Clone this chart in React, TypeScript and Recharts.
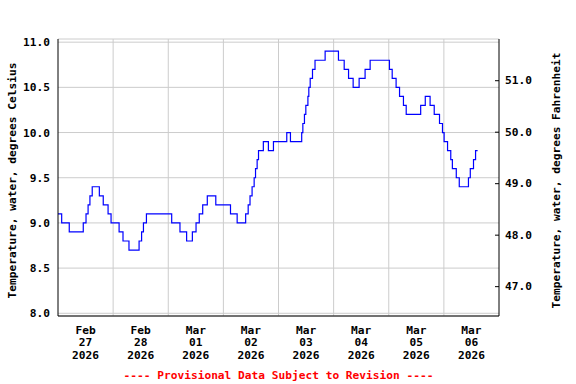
import React from 'react';
import { LineChart, Line, XAxis, YAxis, CartesianGrid, ReferenceLine, Label } from 'recharts';

// hours since Feb 27 2026 00:00, value changes (step series)
const hours = [
  0, 1.6, 4.9, 11.0, 12.2, 13.1, 13.9, 14.9, 18.0, 19.7, 21.8, 23.1, 26.6, 28.3, 30.9,
  35.3, 36.4, 37.2, 38.5, 49.5, 53.1, 56.0, 58.5, 60.1, 61.5, 63.0, 65.0, 68.7, 75.1,
  78.0, 81.7, 82.8, 83.6, 84.5, 85.4, 86.0, 86.7, 87.3, 89.4, 91.6, 93.8, 99.6, 101.2,
  106.1, 106.6, 107.3, 107.9, 108.8, 109.2, 109.8, 110.8, 111.9, 116.3, 122.1, 124.6,
  126.5, 128.5, 131.1, 133.7, 135.9, 144.3, 145.5, 147.2, 148.7, 150.4, 151.6, 157.9,
  159.9, 162.0, 163.8, 166.1, 167.4, 168.1, 169.6, 171.0, 171.7, 173.4, 174.7, 178.7,
  179.5, 180.9, 181.8, 182.7,
];
const tempC = [
  9.1, 9.0, 8.9, 9.0, 9.1, 9.2, 9.3, 9.4, 9.3, 9.2, 9.1, 9.0, 8.9, 8.8, 8.7,
  8.8, 8.9, 9.0, 9.1, 9.0, 8.9, 8.8, 8.9, 9.0, 9.1, 9.2, 9.3, 9.2, 9.1,
  9.0, 9.1, 9.2, 9.3, 9.4, 9.5, 9.6, 9.7, 9.8, 9.9, 9.8, 9.9, 10.0, 9.9,
  10.0, 10.1, 10.2, 10.3, 10.4, 10.5, 10.6, 10.7, 10.8, 10.9, 10.8, 10.7,
  10.6, 10.5, 10.6, 10.7, 10.8, 10.7, 10.6, 10.5, 10.4, 10.3, 10.2, 10.3,
  10.4, 10.3, 10.2, 10.1, 10.0, 9.9, 9.8, 9.7, 9.6, 9.5, 9.4, 9.5,
  9.6, 9.7, 9.8, 9.8,
];

const tickHours = [12, 36, 60, 84, 108, 132, 156, 180];
const tickMonths = ['Feb', 'Feb', 'Mar', 'Mar', 'Mar', 'Mar', 'Mar', 'Mar'];
const tickDays = ['27', '28', '01', '02', '03', '04', '05', '06'];
const tickYear = '2026';
const midnights = [24, 48, 72, 96, 120, 144, 168];
const celsiusTicks = [8.0, 8.5, 9.0, 9.5, 10.0, 10.5, 11.0];
const fahrenheitTicks = [47, 48, 49, 50, 51];

const data = hours.map((h, i) => ({ h, c: tempC[i] }));

const FONT = '"DejaVu Sans Mono", monospace';
const txt = { fontFamily: FONT, fontWeight: 'bold', fontSize: 11.2, fill: '#000' } as const;

function DateTick({ x, y, payload }: any) {
  const i = tickHours.indexOf(payload.value);
  return (
    <g>
      <text x={x} y={y + 14} textAnchor="middle" dominantBaseline="central" {...txt}>{tickMonths[i]}</text>
      <text x={x} y={y + 26.7} textAnchor="middle" dominantBaseline="central" {...txt}>{tickDays[i]}</text>
      <text x={x} y={y + 39.3} textAnchor="middle" dominantBaseline="central" {...txt}>{tickYear}</text>
    </g>
  );
}

function FTick({ x, y, payload }: any) {
  return (
    <g>
      <line x1={x - 6} x2={x - 10} y1={y} y2={y} stroke="#000" />
      <text x={x} y={y} dominantBaseline="central" {...txt}>{payload.value.toFixed(1)}</text>
    </g>
  );
}

export default function App() {
  return (
    <div style={{ position: 'absolute', left: 0, top: 0, width: 576, height: 384, background: '#fff' }}>
      <LineChart width={576} height={384} data={data} margin={{ top: 39, right: 0, bottom: 0, left: 0 }}>
        <CartesianGrid yAxisId="c" xAxisId="b" vertical={false} stroke="#cccccc" />
        {midnights.map((m) => (
          <ReferenceLine key={m} x={m} xAxisId="b" yAxisId="c" stroke="#cccccc" />
        ))}
        <XAxis
          xAxisId="b"
          dataKey="h"
          type="number"
          domain={[0, 192]}
          allowDataOverflow
          ticks={tickHours}
          interval={0}
          height={68}
          tickLine={false}
          tickSize={0}
          tickMargin={0}
          tick={<DateTick />}
          axisLine={{ stroke: '#000' }}
        >
          <Label
            content={({ viewBox }: any) => (
              <text x={viewBox.x + viewBox.width / 2} y={375} textAnchor="middle" dominantBaseline="central" {...txt} fill="#ff0000">
                ---- Provisional Data Subject to Revision ----
              </text>
            )}
          />
        </XAxis>
        <XAxis
          xAxisId="t"
          orientation="top"
          type="number"
          domain={[0, 192]}
          allowDataOverflow
          height={0}
          tick={false}
          tickLine={false}
          axisLine={{ stroke: '#000' }}
        >
          <Label
            content={({ viewBox }: any) => (
              <text x={viewBox.x + viewBox.width / 2 - 2} y={19} textAnchor="middle" dominantBaseline="central" {...txt}>
                USGS 14321000 UMPQUA RIVER NEAR ELKTON, OR
              </text>
            )}
          />
        </XAxis>
        <YAxis
          yAxisId="c"
          type="number"
          domain={[7.97, 11.035]}
          allowDataOverflow
          ticks={celsiusTicks}
          interval={0}
          width={58}
          tickLine={false}
          tickSize={0}
          tickMargin={8}
          tickFormatter={(v: number) => v.toFixed(1)}
          tick={txt}
          axisLine={{ stroke: '#000' }}
        >
          <Label
            content={({ viewBox }: any) => {
              const cx = 12;
              const cy = viewBox.y + viewBox.height / 2 + 3;
              return (
                <text x={cx} y={cy} transform={`rotate(-90 ${cx} ${cy})`} textAnchor="middle" dominantBaseline="central" {...txt}>
                  Temperature, water, degrees Celsius
                </text>
              );
            }}
          />
        </YAxis>
        <YAxis
          yAxisId="f"
          orientation="right"
          type="number"
          domain={[46.43, 51.81]}
          allowDataOverflow
          ticks={fahrenheitTicks}
          interval={0}
          width={77}
          tickLine={false}
          tickSize={0}
          tickMargin={6}
          tick={<FTick />}
          axisLine={{ stroke: '#000' }}
        >
          <Label
            content={({ viewBox }: any) => {
              const cx = viewBox.x + 57;
              const cy = viewBox.y + viewBox.height / 2 + 3;
              return (
                <text x={cx} y={cy} transform={`rotate(-90 ${cx} ${cy})`} textAnchor="middle" dominantBaseline="central" {...txt}>
                  Temperature, water, degrees Fahrenheit
                </text>
              );
            }}
          />
        </YAxis>
        <Line
          xAxisId="b"
          yAxisId="c"
          type="stepAfter"
          dataKey="c"
          stroke="#0000ff"
          strokeWidth={1.2}
          dot={false}
          isAnimationActive={false}
        />
      </LineChart>
    </div>
  );
}
